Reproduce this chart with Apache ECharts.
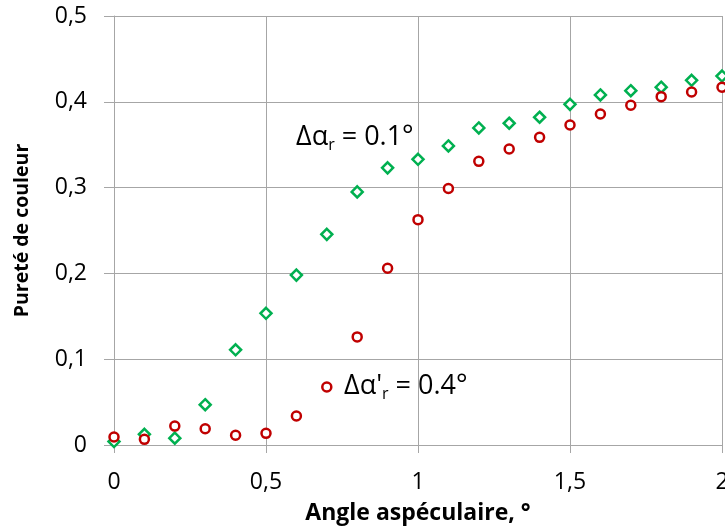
<!DOCTYPE html>
<html>
<head>
<meta charset="utf-8">
<script src="https://cdn.jsdelivr.net/npm/echarts@6/dist/echarts.min.js"></script>
<style>
  html, body { margin: 0; padding: 0; background: #fff; }
  #chart { width: 725px; height: 526px; }
</style>
</head>
<body>
<div id="chart"></div>
<script>
var angles = [0, 0.1, 0.2, 0.3, 0.4, 0.5, 0.6, 0.7, 0.8, 0.9, 1, 1.1, 1.2, 1.3, 1.4, 1.5, 1.6, 1.7, 1.8, 1.9, 2];
// Δαr = 0.1°
var purete_01 = [0.004, 0.0125, 0.008, 0.047, 0.111, 0.1535, 0.198, 0.2455, 0.295, 0.323, 0.333, 0.3485, 0.3695, 0.375, 0.382, 0.397, 0.408, 0.413, 0.417, 0.425, 0.430];
// Δα'r = 0.4°
var purete_04 = [0.0093, 0.0066, 0.022, 0.019, 0.0113, 0.0136, 0.0338, 0.0676, 0.126, 0.206, 0.2626, 0.299, 0.3306, 0.345, 0.3586, 0.373, 0.3858, 0.396, 0.406, 0.4114, 0.417];
var x_ticks = [0, 0.5, 1, 1.5, 2];
var y_ticks = [0, 0.1, 0.2, 0.3, 0.4, 0.5];

var font_family = '"Open Sans", sans-serif';
var grid_color = '#a6a6a6';
var green = '#00b050';
var red = '#c00000';

function pairs(xs, ys) {
	return xs.map(function (x, i) { return [x, ys[i]]; });
}
function virgule(v) {
	return String(v).replace('.', ',');
}

var chart = echarts.init(document.getElementById('chart'));
var options = {
	animation: false,
	textStyle: { fontFamily: font_family },
	grid: { left: 114, right: 3, top: 16, bottom: 81, outerBoundsMode: 'none', containLabel: false },
	xAxis: {
		type: 'value',
		min: x_ticks[0],
		max: x_ticks[x_ticks.length - 1],
		interval: 0.5,
		name: 'Angle aspéculaire, °',
		nameLocation: 'middle',
		nameGap: 57,
		nameMoveOverlap: false,
		nameTextStyle: { fontSize: 23, fontWeight: 'bold', color: '#000', fontFamily: font_family },
		axisLine: { lineStyle: { color: grid_color, width: 1 } },
		axisTick: { show: true, length: 8, lineStyle: { color: grid_color } },
		axisLabel: {
			margin: 26,
			fontSize: 23,
			color: '#000',
			fontFamily: font_family,
			formatter: virgule
		},
		splitLine: { show: true, lineStyle: { color: grid_color, width: 1 } }
	},
	yAxis: {
		type: 'value',
		min: y_ticks[0],
		max: y_ticks[y_ticks.length - 1],
		interval: 0.1,
		name: 'Pureté de couleur',
		nameLocation: 'middle',
		nameGap: 82,
		nameMoveOverlap: false,
		nameTextStyle: { fontSize: 19.5, fontWeight: 'bold', color: '#000', fontFamily: font_family },
		axisLine: { show: true, lineStyle: { color: grid_color, width: 1 } },
		axisTick: { show: true, length: 10, lineStyle: { color: grid_color } },
		axisLabel: {
			margin: 27,
			fontSize: 23,
			color: '#000',
			fontFamily: font_family,
			formatter: virgule
		},
		splitLine: { show: true, lineStyle: { color: grid_color, width: 1 } }
	},
	series: [
		{
			name: 'Δαr = 0.1°',
			type: 'scatter',
			symbol: 'diamond',
			symbolSize: 11,
			itemStyle: { color: '#fff', borderColor: green, borderWidth: 2.5, opacity: 1 },
			data: pairs(angles, purete_01)
		},
		{
			name: "Δα'r = 0.4°",
			type: 'scatter',
			symbol: 'circle',
			symbolSize: 9,
			itemStyle: { color: '#fff', borderColor: red, borderWidth: 2.5, opacity: 1 },
			data: pairs(angles, purete_04)
		}
	],
	graphic: [
		{
			type: 'text',
			left: 296,
			top: 124,
			style: {
				text: '{m|Δα}{s|r}{m| = 0.1°}',
				fill: '#000',
				rich: {
					m: { fontSize: 27, fontFamily: font_family, color: '#000' },
					s: { fontSize: 16, fontFamily: font_family, color: '#000', padding: [16, 0, 0, 0] }
				}
			}
		},
		{
			type: 'text',
			left: 344,
			top: 373,
			style: {
				text: "{m|Δα'}{s|r}{m| = 0.4°}",
				fill: '#000',
				rich: {
					m: { fontSize: 27, fontFamily: font_family, color: '#000' },
					s: { fontSize: 16, fontFamily: font_family, color: '#000', padding: [16, 0, 0, 0] }
				}
			}
		}
	]
};

chart.setOption(options, true);
</script>
</body>
</html>
